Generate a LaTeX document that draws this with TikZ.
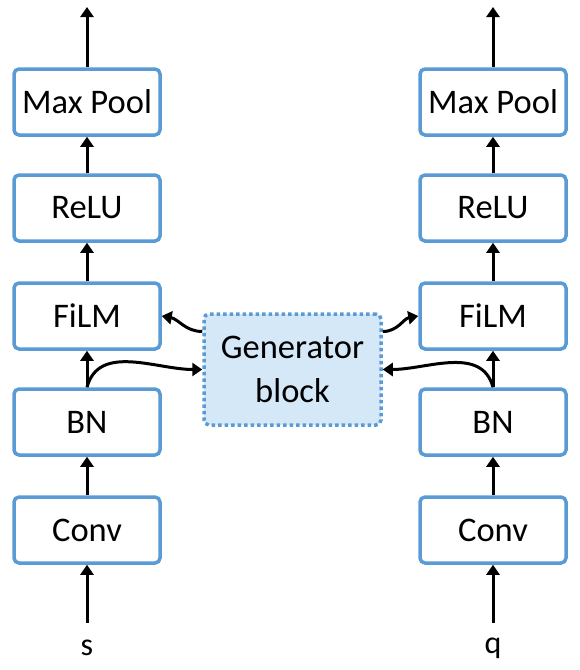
\documentclass[tikz,border=0pt]{standalone}
\usepackage{fontspec}
\setmainfont{Carlito}
\usetikzlibrary{arrows.meta}
\definecolor{boxblue}{HTML}{5B9BD5}
\definecolor{genfill}{HTML}{D5E8F7}
\begin{document}
\begin{tikzpicture}[x=1pt,y=-1pt,
  layer/.style={draw=boxblue,line width=3.5pt,rounded corners=5pt,fill=white,
    minimum width=146pt,minimum height=66pt,inner sep=0pt,
    font=\fontsize{34.5}{40}\selectfont},
  genbox/.style={draw=boxblue,line width=3.5pt,dash pattern=on 3.5pt off 3pt,rounded corners=5pt,fill=genfill,
    minimum width=177pt,minimum height=111pt,inner sep=0pt,align=center,
    font=\fontsize{34.5}{44}\selectfont},
  lbl/.style={font=\fontsize{32}{36}\selectfont,inner sep=0pt},
  arr/.style={line width=3pt,-{Triangle[length=10pt,width=13pt]}}]
\useasboundingbox (0,0) rectangle (579,670);
\foreach \side/\xx in {l/87,r/493}{
  \node[layer] (\side mp) at (\xx,102) {Max Pool};
  \node[layer] (\side re) at (\xx,208) {ReLU};
  \node[layer] (\side fi) at (\xx,316) {FiLM};
  \node[layer] (\side bn) at (\xx,422) {BN};
  \node[layer] (\side cv) at (\xx,530) {Conv};
  \coordinate (\side top) at (\xx,7);
  \coordinate (\side in) at (\xx,623);
  \draw[arr] (\side in) -- (\side cv.south);
  \draw[arr] (\side cv.north) -- (\side bn.south);
  \draw[arr] (\side bn.north) -- (\side fi.south);
  \draw[arr] (\side fi.north) -- (\side re.south);
  \draw[arr] (\side re.north) -- (\side mp.south);
  \draw[arr] (\side mp.north) -- (\side top);
}
\node[lbl] (s) at (87,648) {s};
\node[lbl] (q) at (493,648) {q};
\node[genbox] (gen) at (292.5,369.5) {Generator\\block};
\draw[arr] (lbn.north) to[out=75,in=180] (gen.west);
\draw[arr] (rbn.north) to[out=105,in=0] (gen.east);
\draw[arr] ([yshift=38pt]gen.west) to[out=180,in=-10] (lfi.east);
\draw[arr] ([yshift=38pt]gen.east) to[out=0,in=190] (rfi.west);
\end{tikzpicture}
\end{document}
